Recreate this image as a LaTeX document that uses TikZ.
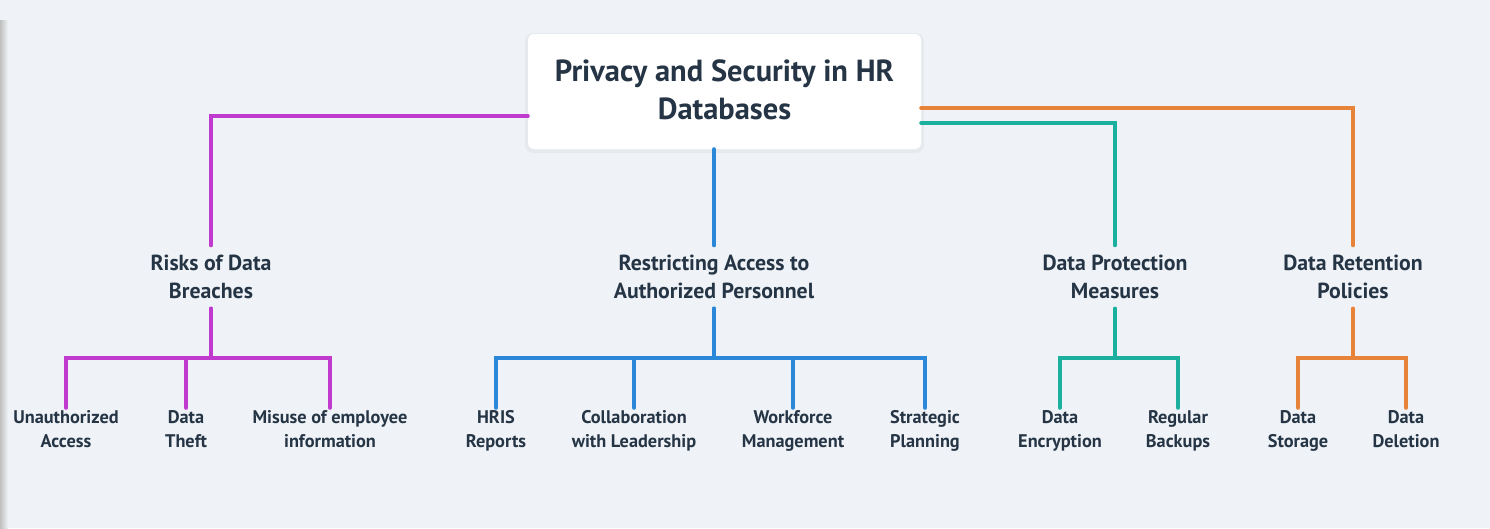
\documentclass[tikz,border=0pt]{standalone}
\usepackage{fontspec}
\setmainfont{PT Sans}
\usetikzlibrary{calc}
\definecolor{bg}{HTML}{EFF3F7}
\definecolor{txt}{HTML}{263545}
\definecolor{cpurple}{HTML}{C03AD0}
\definecolor{cblue}{HTML}{2B88D8}
\definecolor{cteal}{HTML}{1BB09E}
\definecolor{corange}{HTML}{E8833A}
\tikzset{
  rootbox/.style={fill=white, rounded corners=6pt, minimum width=393pt, minimum height=115pt,
    inner sep=0pt, align=center, text=txt, text depth=3pt, font=\fontsize{30.5}{38}\selectfont\bfseries},
  midbox/.style={minimum height=63pt, inner sep=0pt, align=center, text=txt, text depth=0pt,
    font=\fontsize{21.8}{28}\selectfont\bfseries},
  leafbox/.style={minimum height=44pt, inner sep=0pt, align=center, text=txt, text depth=2.5pt,
    font=\fontsize{18.3}{24}\selectfont\bfseries},
  conn/.style={line width=4pt, line cap=round, line join=miter},
}
\begin{document}
\begin{tikzpicture}[x=1pt,y=-1pt]
\useasboundingbox (0,0) rectangle (1490,528);
\fill[bg] (0,0) rectangle (1490,528);
\shade[left color=black!25, right color=bg] (0,20) rectangle (8,528);
% root shadow
\fill[black, opacity=0.035, rounded corners=8pt] (525,33) rectangle (924,153);
\node[rootbox] (root) at (724.5,91.5) {Privacy and Security in HR\\Databases};
% middle nodes
\node[midbox] (m1) at (211,277) {Risks of Data\\Breaches};
\node[midbox] (m2) at (714,277) {Restricting Access to\\Authorized Personnel};
\node[midbox] (m3) at (1115,277) {Data Protection\\Measures};
\node[midbox] (m4) at (1353,277) {Data Retention\\Policies};
% leaves
\node[leafbox] (a1) at (66,430) {Unauthorized\\Access};
\node[leafbox] (a2) at (186,430) {Data\\Theft};
\node[leafbox] (a3) at (330,430) {Misuse of employee\\information};
\node[leafbox] (b1) at (496,430) {HRIS\\Reports};
\node[leafbox] (b2) at (634,430) {Collaboration\\with Leadership};
\node[leafbox] (b3) at (793,430) {Workforce\\Management};
\node[leafbox] (b4) at (925,430) {Strategic\\Planning};
\node[leafbox] (c1) at (1060,430) {Data\\Encryption};
\node[leafbox] (c2) at (1178,430) {Regular\\Backups};
\node[leafbox] (d1) at (1298,430) {Data\\Storage};
\node[leafbox] (d2) at (1406,430) {Data\\Deletion};
% root connectors
\draw[conn, cpurple] ($(root.west)+(0,24.5)$) -| (m1.north);
\draw[conn, cblue] (root.south -| m2.north) -- (m2.north);
\draw[conn, cteal] ($(root.east)+(0,31.5)$) -| (m3.north);
\draw[conn, corange] ($(root.east)+(0,16.5)$) -| (m4.north);
% branch connectors
\foreach \l in {a1,a2,a3} \draw[conn, cpurple] (m1.south) -- ++(0,49) -| (\l.north);
\foreach \l in {b1,b2,b3,b4} \draw[conn, cblue] (m2.south) -- ++(0,49) -| (\l.north);
\foreach \l in {c1,c2} \draw[conn, cteal] (m3.south) -- ++(0,49) -| (\l.north);
\foreach \l in {d1,d2} \draw[conn, corange] (m4.south) -- ++(0,49) -| (\l.north);
\end{tikzpicture}
\end{document}
